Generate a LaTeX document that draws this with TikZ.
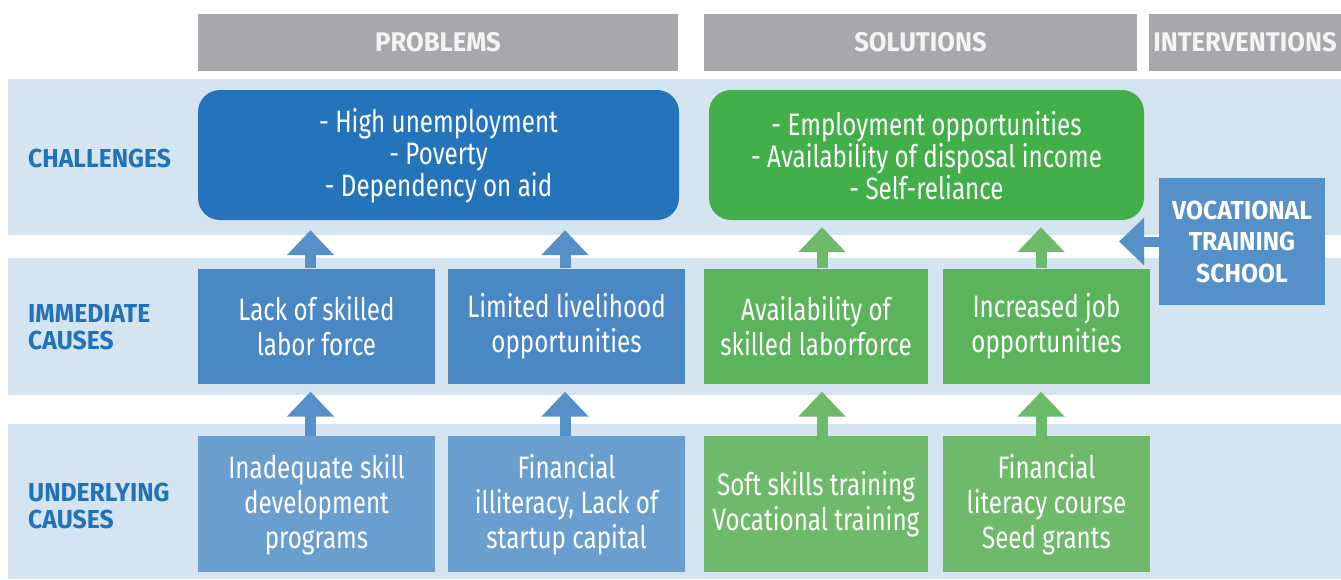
\documentclass[tikz,border=0pt]{standalone}
\usepackage{fontspec}
\setmainfont{Fira Sans}[FakeStretch=0.78, BoldFeatures={FakeStretch=0.95}]
\usetikzlibrary{arrows.meta}
\definecolor{hdgray}{HTML}{A7A8AB}
\definecolor{hdtext}{HTML}{F4F4F4}
\definecolor{bandblue}{HTML}{D5E4F1}
\definecolor{lblblue}{HTML}{2272B9}
\definecolor{probdark}{HTML}{2574BB}
\definecolor{probmid}{HTML}{4A87C5}
\definecolor{problight}{HTML}{6A9ECF}
\definecolor{arrowblue}{HTML}{5690C8}
\definecolor{solvdark}{HTML}{42AF4B}
\definecolor{solvmid}{HTML}{5BB45B}
\definecolor{solvlight}{HTML}{6FBA6A}
\definecolor{arrowgreen}{HTML}{6DBA6B}

\begin{document}
\begin{tikzpicture}[x=1pt, y=-1pt,
        box/.style={text=white, align=center, inner sep=0pt, font=\fontsize{31}{35}\selectfont},
        head/.style={fill=hdgray, text=hdtext, minimum height=57pt, inner sep=0pt, font=\bfseries\fontsize{27}{30}\selectfont},
        rowlabel/.style={anchor=west, align=left, text=lblblue, inner sep=0pt, font=\bfseries\fontsize{26}{27}\selectfont},
        up/.style={line width=11pt, -{Triangle[width=46pt, length=25pt]}}
    ]
      \useasboundingbox (0,0) rectangle (1341,579);
      \fill[bandblue] (8,79) rectangle (1341,235);
      \fill[bandblue] (8,258) rectangle (1341,395);
      \fill[bandblue] (8,424) rectangle (1341,579);

      \node[head, minimum width=480pt] (problems) at (438,42.5) {PROBLEMS};
      \node[head, minimum width=433pt] (solutions) at (920.5,42.5) {SOLUTIONS};
      \node[head, minimum width=192pt] (interventions) at (1245,42.5) {INTERVENTIONS};

      \node[rowlabel] (challenges) at (28,158) {CHALLENGES};
      \node[rowlabel] (immediate) at (28,327) {IMMEDIATE\\CAUSES};
      \node[rowlabel] (underlying) at (28,506) {UNDERLYING\\CAUSES};

      \node[box, fill=probdark, rounded corners=22pt, minimum width=481pt, minimum height=130pt,
            font=\fontsize{31}{32}\selectfont] (chalprob) at (438.5,155)
           {\rule{0pt}{26pt}- High unemployment\\- Poverty\\- Dependency on aid};
      \node[box, fill=solvdark, rounded corners=22pt, minimum width=435pt, minimum height=130pt,
            font=\fontsize{31}{32}\selectfont] (chalsol) at (926.5,155)
           {\rule{0pt}{26pt}- Employment opportunities\\- Availability of disposal income\\- Self-reliance};

      \node[box, fill=probmid, minimum width=237pt, minimum height=115pt] (lackskill) at (316.5,326)
           {Lack of skilled\\labor force};
      \node[box, fill=probmid, minimum width=237pt, minimum height=115pt] (livelihood) at (566.5,326)
           {Limited livelihood\\opportunities};
      \node[box, fill=solvmid, minimum width=224pt, minimum height=115pt] (skilledforce) at (816,326)
           {Availability of\\skilled laborforce};
      \node[box, fill=solvmid, minimum width=207pt, minimum height=115pt] (jobopp) at (1046.5,326)
           {Increased job\\opportunities};

      \node[box, fill=problight, minimum width=237pt, minimum height=136pt] (skilldev) at (316.5,504)
           {\rule{0pt}{26pt}Inadequate skill\\development\\programs};
      \node[box, fill=problight, minimum width=237pt, minimum height=136pt] (illiteracy) at (566.5,504)
           {\rule{0pt}{26pt}Financial\\illiteracy, Lack of\\startup capital};
      \node[box, fill=solvlight, minimum width=224pt, minimum height=136pt] (softskills) at (816,504)
           {Soft skills training\\Vocational training};
      \node[box, fill=solvlight, minimum width=207pt, minimum height=136pt] (fincourse) at (1046.5,504)
           {\rule{0pt}{26pt}Financial\\literacy course\\Seed grants};

      \node[box, fill=arrowblue, minimum width=166pt, minimum height=127pt,
            font=\bfseries\fontsize{26}{31.5}\selectfont] (voc) at (1242,241.5)
           {VOCATIONAL\\TRAINING\\SCHOOL};
      \coordinate (vocend) at (1119,241.5);

      % upward arrows
      \draw[up, arrowblue, shorten >=10pt] ([xshift=-6pt]lackskill.north) -- ([xshift=-6pt]lackskill.north |- chalprob.south);
      \draw[up, arrowblue, shorten >=10pt] ([xshift=-1.5pt]livelihood.north) -- ([xshift=-1.5pt]livelihood.north |- chalprob.south);
      \draw[up, arrowgreen, shorten >=7pt] ([xshift=6pt]skilledforce.north) -- ([xshift=6pt]skilledforce.north |- chalsol.south);
      \draw[up, arrowgreen, shorten >=7pt] ([xshift=-5.5pt]jobopp.north) -- ([xshift=-5.5pt]jobopp.north |- chalsol.south);
      \draw[up, arrowblue, shorten >=8pt] ([xshift=-6pt]skilldev.north) -- ([xshift=-6pt]lackskill.south);
      \draw[up, arrowblue, shorten >=8pt] ([xshift=-1.5pt]illiteracy.north) -- ([xshift=-1.5pt]livelihood.south);
      \draw[up, arrowgreen, shorten >=8pt] ([xshift=6pt]softskills.north) -- ([xshift=6pt]skilledforce.south);
      \draw[up, arrowgreen, shorten >=8pt] ([xshift=-5.5pt]fincourse.north) -- ([xshift=-5.5pt]jobopp.south);
      \draw[up, arrowblue, line width=10pt] (voc.west) -- (vocend);
    \end{tikzpicture}
\end{document}
